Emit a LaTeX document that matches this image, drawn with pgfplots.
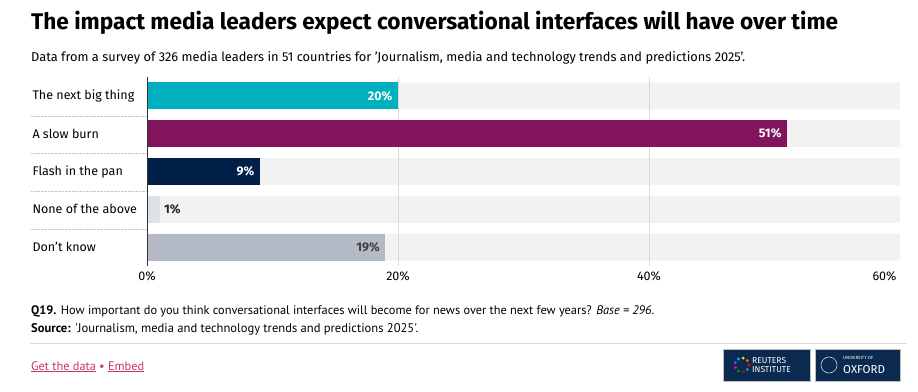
\documentclass[border=0pt]{standalone}
\usepackage{pgfplots}
\pgfplotsset{compat=1.18}
\usetikzlibrary{calc}
\usepackage{fontspec}
\setmainfont{Fira Sans}
\newfontfamily\condfont{PT Sans}
\definecolor{teal}{HTML}{00B0BE}
\definecolor{plum}{HTML}{82145E}
\definecolor{navy}{HTML}{00204A}
\definecolor{pale}{HTML}{DDE1E8}
\definecolor{greyb}{HTML}{B4B9C6}
\definecolor{bgbar}{HTML}{F2F2F2}
\definecolor{gridc}{HTML}{DADADA}
\definecolor{linkc}{HTML}{C8336E}
\definecolor{logo}{HTML}{0B2A4F}
\begin{document}
\begin{tikzpicture}[x=1pt,y=1pt]
\fill[white] (0,0) rectangle (918,391);
% title and subtitle
\node[anchor=base west,inner sep=0] at (31,361) {\resizebox{807pt}{!}{\fontsize{20.5}{22}\selectfont\bfseries The impact media leaders expect conversational interfaces will have over time}};
\node[anchor=base west,inner sep=0] at (31,329) {\resizebox{714pt}{!}{\fontsize{12.5}{14}\selectfont Data from a survey of 326 media leaders in 51 countries for 'Journalism, media and technology trends and predictions 2025'.}};
% separators in the label area
\foreach \yy in {116,153.5,191,229}{
  \draw[gray!45,densely dotted] (31,391-\yy) -- (147,391-\yy);
}
\begin{axis}[
  at={(147pt,125pt)}, anchor=south west,
  scale only axis, width=753pt, height=189pt,
  xmin=0, xmax=60, ymin=-0.5, ymax=4.5,
  y dir=reverse,
  axis line style={draw=none},
  major tick length=0pt,
  xtick={0,20,40},
  xticklabels={0\%,20\%,40\%},
  extra x ticks={60},
  extra x tick labels={60\%},
  extra x tick style={xticklabel style={anchor=north east, xshift=0pt}},
  xticklabel style={font=\fontsize{12.5}{14}\selectfont, yshift=-2pt},
  ytick={0,1,2,3,4},
  yticklabels={The next big thing,A slow burn,Flash in the pan,None of the above,Don't know},
  yticklabel style={anchor=west, xshift=-118pt, font=\fontsize{12.5}{14}\selectfont},
  /pgf/number format/assume math mode=true,
  xbar, bar width=27pt, bar shift=0pt,
  clip=false,
]
\addplot[draw=none, fill=bgbar, bar shift=0pt] coordinates {(60,0) (60,1) (60,2) (60,3) (60,4)};
\draw[gridc, line width=0.8pt] (axis cs:20,-0.5) -- (axis cs:20,4.5);
\draw[gridc, line width=0.8pt] (axis cs:40,-0.5) -- (axis cs:40,4.5);
\addplot[draw=none, fill=teal, bar shift=0pt, point meta=x, nodes near coords={\pgfmathprintnumber{\pgfplotspointmeta}\%},
  every node near coord/.append style={anchor=east, text=white, font=\fontsize{12.5}{14}\selectfont\bfseries, xshift=-2pt}] coordinates {(20,0)};
\addplot[draw=none, fill=plum, bar shift=0pt, point meta=x, nodes near coords={\pgfmathprintnumber{\pgfplotspointmeta}\%},
  every node near coord/.append style={anchor=east, text=white, font=\fontsize{12.5}{14}\selectfont\bfseries, xshift=-2pt}] coordinates {(51,1)};
\addplot[draw=none, fill=navy, bar shift=0pt, point meta=x, nodes near coords={\pgfmathprintnumber{\pgfplotspointmeta}\%},
  every node near coord/.append style={anchor=east, text=white, font=\fontsize{12.5}{14}\selectfont\bfseries, xshift=-2pt}] coordinates {(9,2)};
\addplot[draw=none, fill=pale, bar shift=0pt, point meta=x, nodes near coords={\pgfmathprintnumber{\pgfplotspointmeta}\%},
  every node near coord/.append style={anchor=west, text=black!85, font=\fontsize{12.5}{14}\selectfont\bfseries, xshift=1pt}] coordinates {(1,3)};
\addplot[draw=none, fill=greyb, bar shift=0pt, point meta=x, nodes near coords={\pgfmathprintnumber{\pgfplotspointmeta}\%},
  every node near coord/.append style={anchor=east, text=black!75, font=\fontsize{12.5}{14}\selectfont\bfseries, xshift=-2pt}] coordinates {(19,4)};
\draw[black!80, line width=0.9pt] (axis cs:0,-0.5) -- (axis cs:0,4.5);
\end{axis}
% footer
\node[anchor=base west,inner sep=0] at (31,77) {\resizebox{623pt}{!}{\condfont\fontsize{11.5}{13}\selectfont\textbf{Q19.} How important do you think conversational interfaces will become for news over the next few years? \textit{Base = 296}.}};
\node[anchor=base west,inner sep=0] at (31,59) {\resizebox{387pt}{!}{\condfont\fontsize{11.5}{13}\selectfont\textbf{Source:} 'Journalism, media and technology trends and predictions 2025'.}};
\draw[gray!30, line width=0.8pt] (30,48) -- (907,48);
\node[anchor=base west,inner sep=0] at (31,21) {\resizebox{113pt}{!}{\condfont\fontsize{11.5}{13}\selectfont\color{linkc}\underline{Get the data} \textbullet\ \underline{Embed}}};
% logos
\fill[logo] (723,10) rectangle (810,42);
\draw[gray!50] (723,10) rectangle (810,42);
\foreach \a/\c in {0/red,40/orange,80/yellow!80!orange,120/cyan,160/blue!70,200/magenta,240/green!60!black,280/purple,320/teal}{
  \fill[\c] ($(742,26)+(\a:7)$) circle (1.6);
}
\node[anchor=west,inner sep=0,text=white,align=left,font=\fontsize{8.5}{8.5}\selectfont\rmfamily] at (752,26) {REUTERS\\INSTITUTE};
\fill[logo] (815,10) rectangle (900,42);
\draw[gray!50] (815,10) rectangle (900,42);
\draw[white!80!logo, line width=0.6pt] (829,26) circle (8);
\node[anchor=west,inner sep=0,text=white,font=\fontsize{4.5}{5}\selectfont] at (843,33) {UNIVERSITY OF};
\node[anchor=west,inner sep=0,text=white,font=\fontsize{11.5}{12}\selectfont\rmfamily] at (843,21) {OXFORD};
\end{tikzpicture}
\end{document}
